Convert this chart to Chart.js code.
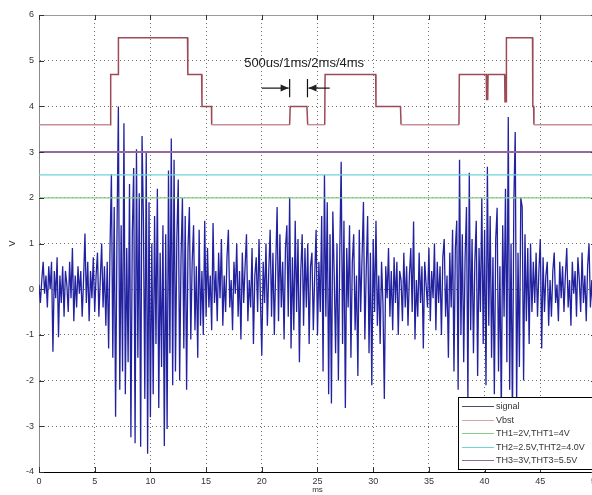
<!DOCTYPE html>
<html><head><meta charset="utf-8">
<script src="https://cdn.jsdelivr.net/npm/chart.js@4/dist/chart.umd.min.js"></script>
<style>
html,body{margin:0;padding:0;background:#fff;overflow:hidden;width:592px;height:495px}
#wrap{position:absolute;left:0;top:0;width:605px;height:495px}
</style></head><body>
<div id="wrap"><canvas id="c" width="605" height="495"></canvas></div>
<script>
// ---------- data ----------
const sampleStepMs = 0.125;
const signalV = [
 0.1,-0.3,0.2,0.6,-0.1,0.3,-0.4,0.5,
 0.0,0.6,-1.37,0.4,-0.2,0.7,-1.05,0.3,
 -0.3,0.5,-0.6,0.4,0.1,-0.5,0.6,-0.2,
 0.9,-0.7,0.3,-0.4,0.5,-0.1,0.4,-0.6,
 0.2,1.22,-0.3,0.6,-0.7,0.4,-0.2,0.7,
 -0.5,0.3,0.8,-0.6,0.2,1.0,-0.4,0.5,
 -0.8,0.6,-1.3,0.9,2.52,-1.5,1.8,-2.79,
 1.2,4.0,-2.2,1.4,-1.8,3.63,-2.3,0.9,
 -1.6,2.3,-3.24,1.2,2.65,-3.37,3.06,-1.5,
 2.1,-3.45,3.35,1.5,-2.4,3.0,-3.6,1.9,
 -2.8,1.0,-2.3,1.6,-1.2,2.2,-2.6,0.8,
 -1.7,1.4,-3.43,1.2,-3.06,2.6,-1.4,3.3,
 -2.1,2.83,-1.8,1.1,2.4,-2.0,0.7,2.0,
 -1.3,1.6,-2.2,0.9,1.8,-1.1,0.6,1.4,
 -0.9,0.5,-1.5,1.3,-0.8,0.4,-1.0,1.5,
 -0.6,0.9,-0.4,0.3,-0.9,1.45,-0.3,0.4,
 -0.7,0.8,-0.2,1.1,-0.8,0.3,-0.5,0.7,
 1.3,-0.4,0.2,-0.9,0.6,-0.1,1.0,-0.6,
 0.4,-1.1,0.8,-0.3,0.5,1.2,-0.7,0.2,
 -0.4,0.9,-1.2,0.3,0.7,-0.5,1.1,-0.2,
 -1.45,0.6,-0.3,1.0,-0.8,0.4,1.3,-0.6,
 0.8,-1.0,0.5,1.8,-0.7,1.2,-0.4,0.6,
 -1.1,0.9,1.4,-0.6,2.02,-1.3,0.7,-0.9,
 1.5,-0.5,1.1,-1.6,0.4,1.2,-0.8,0.9,
 -0.4,1.0,-1.2,0.5,0.8,-0.9,0.3,1.3,
 -1.0,0.6,-0.5,1.6,-1.8,2.5,-0.6,1.9,
 -2.3,1.2,-2.5,1.7,0.3,-1.4,1.0,-2.0,
 0.8,2.79,-1.2,1.5,-2.6,0.9,-0.4,1.4,
 -1.5,0.6,1.2,-0.9,0.3,-1.9,1.3,-0.5,
 0.7,1.91,-1.1,0.4,1.6,-1.4,0.8,-2.1,
 1.1,-0.5,1.5,-0.8,0.3,-1.2,0.6,-0.3,
 -2.4,0.5,-0.2,0.9,-0.6,0.4,-0.9,0.7,
 -0.3,0.6,-1.0,0.4,0.2,-0.7,0.8,-0.4,
 0.5,-0.8,0.3,0.9,-0.5,1.48,-1.1,0.2,
 -0.6,0.8,-0.3,0.5,-1.3,0.6,0.1,-0.4,
 0.9,-0.7,0.4,-0.2,1.0,-0.9,0.6,-0.3,
 0.5,-1.0,0.7,1.1,-0.6,0.3,-1.5,0.8,
 -0.4,1.3,-1.8,0.9,1.5,-2.2,2.83,-1.0,
 1.2,-1.6,0.7,1.8,-2.4,2.55,-0.9,1.1,
 -1.4,0.6,1.5,-1.9,0.9,-0.5,2.0,-1.2,
 1.3,-2.1,2.68,-0.8,1.6,-1.5,0.7,-2.3,
 1.1,1.78,-1.8,0.5,-2.7,1.4,-0.6,2.2,
 -1.6,3.77,-2.2,1.0,-2.9,1.9,3.44,-2.5,
 0.8,-1.7,2.0,1.8,-2.0,1.2,-0.7,0.9,
 -1.2,1.0,-0.5,0.6,-0.3,0.8,-0.6,0.4,
 1.1,-1.3,0.7,-0.5,0.3,0.6,-0.8,0.2,
 -0.6,0.4,0.8,-0.3,0.1,-0.7,0.6,-0.2,
 0.5,-0.5,0.3,0.9,-0.4,0.2,-0.8,0.6,
 -0.1,0.4,-0.6,0.7,0.2,-0.5,0.8,-0.3,
 0.3,-0.7,0.5,1.0,-0.4,0.2,-0.6,0.4,
 0.1
];
const vbstTimeMs = [0,6.38,6.42,6.45,7.1,7.13,13.33,13.36,14.6,14.63,
 15.48,15.5,22.5,22.55,24.05,24.12,25.65,25.68,30.22,30.25,
 32.45,32.5,37.7,37.73,40.15,40.18,40.28,40.31,41.8,41.83,
 41.93,41.96,44.3,44.33,44.4,44.43,50];
const vbstV = [3.6,3.6,4.1,4.7,4.7,5.5,5.5,4.7,4.7,4.0,
 4.0,3.6,3.6,4.0,4.0,3.6,3.6,4.7,4.7,4.0,
 4.0,3.6,3.6,4.7,4.7,4.15,4.15,4.7,4.7,4.1,
 4.1,5.5,5.5,4.0,4.0,3.6,3.6];
const thresholdV = [2, 2.5, 3];
const seriesLabels = ['signal','Vbst','TH1=2V,THT1=4V','TH2=2.5V,THT2=4.0V','TH3=3V,THT3=5.5V'];
const xRangeMs = [0, 50];
const yRangeV = [-4, 6];
const xTickStep = 5, yTickStep = 1;
const xTitle = 'ms', yTitle = 'V';
const noteText = '500us/1ms/2ms/4ms';
const noteAt = {t: 23.8, v: 4.93};
const markerBarsMs = [22.5, 24.1];
const markerBarV = [4.2, 4.6];
const arrowV = 4.4;
const arrowStartMs = [20.0, 26.1];

// ---------- styles ----------
const FONT = "'Liberation Sans', Arial, Helvetica, sans-serif";
Chart.defaults.font.family = FONT;
const colSignal = 'rgb(34,34,160)';
const colVbstHi = '#9c4a56', colVbstLo = '#c99098';
const thColors = ['#86cc86', '#6fd3d8', '#946a9c'];
const thWidths = [1.3, 1.3, 2];
const legendColors = ['#4c4c6c', '#d8a4a8', thColors[0], thColors[1], thColors[2]];

const signalPts = signalV.map((v, i) => ({x: i * sampleStepMs, y: v}));
const vbstPts = vbstTimeMs.map((t, i) => ({x: t, y: vbstV[i]}));

const datasets = [
  {label: seriesLabels[0], data: signalPts, borderColor: colSignal, borderWidth: 1.3, pointRadius: 0, tension: 0, order: 5},
  {label: seriesLabels[1], data: vbstPts, borderColor: colVbstHi, borderWidth: 1.5, pointRadius: 0, tension: 0, order: 4,
   segment: {borderColor: c => (c.p0.parsed.y <= 3.65 && c.p1.parsed.y <= 3.65) ? colVbstLo : colVbstHi}},
];
thresholdV.forEach((lv, i) => datasets.push({
  label: seriesLabels[2 + i], data: [{x: xRangeMs[0], y: lv}, {x: xRangeMs[1], y: lv}],
  borderColor: thColors[i], borderWidth: thWidths[i], pointRadius: 0, order: 3 - i
}));

function arrow(ctx, x1, x2, y) {
  ctx.beginPath(); ctx.moveTo(x1, y); ctx.lineTo(x2, y); ctx.stroke();
  const d = x2 > x1 ? 1 : -1;
  ctx.beginPath(); ctx.moveTo(x2, y); ctx.lineTo(x2 - d * 8, y - 3.5); ctx.lineTo(x2 - d * 8, y + 3.5); ctx.closePath(); ctx.fill();
}

const chrome = {
  id: 'matlabChrome',
  afterDraw(chart) {
    const {ctx, chartArea: a, scales: {x, y}} = chart;
    ctx.save();
    ctx.strokeStyle = '#9a9a9a'; ctx.lineWidth = 1;
    ctx.beginPath();
    ctx.moveTo(a.left, a.top + 0.5); ctx.lineTo(a.right, a.top + 0.5);
    ctx.moveTo(a.right - 0.5, a.top); ctx.lineTo(a.right - 0.5, a.bottom);
    ctx.stroke();
    ctx.strokeStyle = '#333';
    ctx.beginPath();
    x.ticks.forEach(t => { const px = Math.round(x.getPixelForValue(t.value)) + 0.5;
      ctx.moveTo(px, a.bottom); ctx.lineTo(px, a.bottom - 5); ctx.moveTo(px, a.top); ctx.lineTo(px, a.top + 5); });
    y.ticks.forEach(t => { const py = Math.round(y.getPixelForValue(t.value)) + 0.5;
      ctx.moveTo(a.left, py); ctx.lineTo(a.left + 5, py); ctx.moveTo(a.right, py); ctx.lineTo(a.right - 5, py); });
    ctx.stroke();
    ctx.fillStyle = '#222'; ctx.strokeStyle = '#111'; ctx.lineWidth = 1.2;
    ctx.font = '13px ' + FONT; ctx.textAlign = 'center'; ctx.textBaseline = 'middle';
    ctx.fillText(noteText, x.getPixelForValue(noteAt.t), y.getPixelForValue(noteAt.v));
    const ay = y.getPixelForValue(arrowV);
    const b0 = x.getPixelForValue(markerBarsMs[0]), b1 = x.getPixelForValue(markerBarsMs[1]);
    ctx.beginPath();
    [b0, b1].forEach(bx => { ctx.moveTo(bx, y.getPixelForValue(markerBarV[0])); ctx.lineTo(bx, y.getPixelForValue(markerBarV[1])); });
    ctx.stroke();
    arrow(ctx, x.getPixelForValue(arrowStartMs[0]), b0 - 1, ay);
    arrow(ctx, x.getPixelForValue(arrowStartMs[1]), b1 + 1, ay);
    const lx = a.right - 138, ly = a.bottom - 75, lw = 135, lh = 72;
    ctx.fillStyle = '#fff'; ctx.fillRect(lx, ly, lw, lh);
    ctx.strokeStyle = '#000'; ctx.lineWidth = 1; ctx.strokeRect(lx + 0.5, ly + 0.5, lw, lh);
    ctx.font = '9px ' + FONT; ctx.textAlign = 'left'; ctx.textBaseline = 'middle';
    seriesLabels.forEach((lab, i) => {
      const cy = Math.round(ly + 9 + i * 13.5) + 0.5;
      ctx.strokeStyle = legendColors[i]; ctx.lineWidth = 1;
      ctx.beginPath(); ctx.moveTo(lx + 4, cy); ctx.lineTo(lx + 36, cy); ctx.stroke();
      ctx.fillStyle = '#333'; ctx.fillText(lab, lx + 38, cy);
    });
    ctx.restore();
  }
};

new Chart(document.getElementById('c'), {
  type: 'line',
  data: {datasets},
  plugins: [chrome],
  options: {
    responsive: false, animation: false, devicePixelRatio: 1, events: [],
    layout: {padding: {top: 15, right: 8, left: 0, bottom: 0}},
    plugins: {legend: {display: false}, tooltip: {enabled: false}},
    scales: {
      x: {
        type: 'linear', min: xRangeMs[0], max: xRangeMs[1],
        ticks: {stepSize: xTickStep, color: '#333', font: {size: 9}, padding: 4, maxRotation: 0, autoSkip: false},
        grid: {color: c => (c.tick && (c.tick.value === xRangeMs[0] || c.tick.value === xRangeMs[1])) ? 'rgba(0,0,0,0)' : 'rgba(60,60,60,0.75)', drawTicks: false, lineWidth: 1},
        border: {display: true, color: '#000', width: 1, dash: [1, 3]},
        title: {display: true, text: xTitle, color: '#333', font: {size: 8}, padding: {top: 0, bottom: 0}},
        afterFit: s => { s.height = 23; }
      },
      y: {
        min: yRangeV[0], max: yRangeV[1],
        ticks: {stepSize: yTickStep, color: '#333', font: {size: 9}, padding: 5},
        grid: {color: c => (c.tick && (c.tick.value === yRangeV[0] || c.tick.value === yRangeV[1])) ? 'rgba(0,0,0,0)' : 'rgba(60,60,60,0.75)', drawTicks: false, lineWidth: 1},
        border: {display: true, color: '#8a8a8a', width: 1, dash: [1, 3]},
        title: {display: true, text: yTitle, color: '#333', font: {size: 9}, padding: {top: 7, bottom: 0}},
        afterFit: s => { s.width = 39; }
      }
    }
  }
});
</script>
</body></html>
